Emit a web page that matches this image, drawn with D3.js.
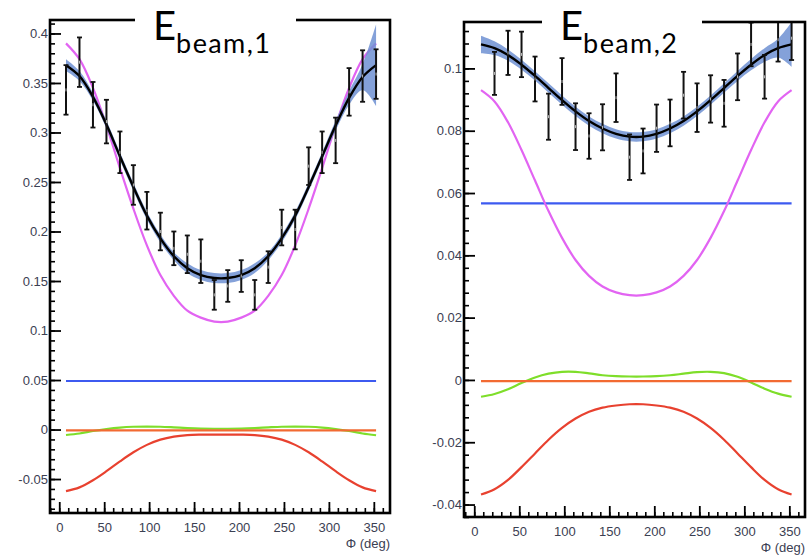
<!DOCTYPE html>
<html>
<head>
<meta charset="utf-8">
<script src="https://cdn.jsdelivr.net/npm/d3@7"></script>
<style>
  body { margin: 0; background: #fff; }
  .tick text { font-family: "Liberation Sans", Arial, sans-serif; font-size: 13px; fill: #3b4052; }
  .axis-title { font-family: "Liberation Sans", Arial, sans-serif; font-size: 13px; fill: #3b4052; }
  .title { font-family: Lato, "Noto Sans", sans-serif; fill: #000; }
</style>
</head>
<body>
<svg id="chart" width="811" height="560"></svg>
<script>
// phi bins (deg) used for the curves and the data points
const phi = [7.5, 22.5, 37.5, 52.5, 67.5, 82.5, 97.5, 112.5, 127.5, 142.5, 157.5, 172.5,
             187.5, 202.5, 217.5, 232.5, 247.5, 262.5, 277.5, 292.5, 307.5, 322.5, 337.5, 352.5];
const phiEnds = [7.5, 352.5];
const xTicks = [0, 50, 100, 150, 200, 250, 300, 350];

// ---- E beam 1 ----
const fit1  = [0.368, 0.357, 0.336, 0.308, 0.276, 0.245, 0.216, 0.193, 0.175, 0.163, 0.156, 0.153,
               0.153, 0.156, 0.163, 0.175, 0.193, 0.216, 0.245, 0.276, 0.307, 0.335, 0.356, 0.368];
const band1 = [0.006, 0.005, 0.004, 0.004, 0.004, 0.004, 0.004, 0.004, 0.004, 0.005, 0.005, 0.005,
               0.005, 0.005, 0.005, 0.004, 0.004, 0.004, 0.004, 0.004, 0.005, 0.007, 0.013, 0.041];
const mag1  = [0.390, 0.374, 0.345, 0.307, 0.264, 0.223, 0.186, 0.156, 0.135, 0.120, 0.113, 0.109,
               0.109, 0.113, 0.120, 0.135, 0.156, 0.186, 0.223, 0.264, 0.307, 0.345, 0.374, 0.390];
const blue1   = [0.049, 0.049];
const orange1 = [-0.0008, -0.0008];
const green1 = [-0.0055, -0.004, -0.0015, 0.0005, 0.002, 0.0028, 0.003, 0.0028, 0.0022, 0.0015, 0.001, 0.0008,
                0.0008, 0.001, 0.0015, 0.0022, 0.0028, 0.003, 0.0028, 0.002, 0.0005, -0.0015, -0.004, -0.0058];
const red1 = [-0.0622, -0.0584, -0.0512, -0.0421, -0.0322, -0.0230, -0.0155, -0.0102, -0.0071, -0.0056, -0.0052, -0.0052,
              -0.0052, -0.0052, -0.0056, -0.0071, -0.0102, -0.0155, -0.0230, -0.0322, -0.0421, -0.0512, -0.0584, -0.0622];
const dataPhi1 = phi;
const data1 = [0.343, 0.371, 0.328, 0.311, 0.280, 0.247, 0.221, 0.200, 0.183, 0.177, 0.170, 0.136,
               0.145, 0.155, 0.136, 0.164, 0.204, 0.202, 0.266, 0.280, 0.292, 0.341, 0.357, 0.359];
const err1  = [0.025, 0.025, 0.023, 0.022, 0.021, 0.020, 0.019, 0.019, 0.017, 0.019, 0.022, 0.015,
               0.016, 0.016, 0.015, 0.016, 0.018, 0.020, 0.019, 0.021, 0.023, 0.024, 0.026, 0.025];
const yTicks1 = [-0.05, 0, 0.05, 0.1, 0.15, 0.2, 0.25, 0.3, 0.35, 0.4];

// ---- E beam 2 ----
const fit2  = [0.1077, 0.1065, 0.1043, 0.1012, 0.0976, 0.0937, 0.0898, 0.0862, 0.0831, 0.0807, 0.0790, 0.0781,
               0.0781, 0.0790, 0.0807, 0.0831, 0.0862, 0.0898, 0.0937, 0.0976, 0.1012, 0.1043, 0.1065, 0.1077];
const band2 = [0.0028, 0.0022, 0.0018, 0.0016, 0.0015, 0.0015, 0.0015, 0.0015, 0.0015, 0.0015, 0.0015, 0.0015,
               0.0015, 0.0015, 0.0015, 0.0015, 0.0015, 0.0015, 0.0015, 0.0016, 0.0018, 0.0022, 0.0030, 0.0072];
const mag2  = [0.0930, 0.0894, 0.0827, 0.0738, 0.0640, 0.0542, 0.0456, 0.0385, 0.0334, 0.0300, 0.0281, 0.0272,
               0.0272, 0.0281, 0.0300, 0.0334, 0.0385, 0.0456, 0.0542, 0.0640, 0.0738, 0.0827, 0.0894, 0.0930];
const blue2   = [0.0567, 0.0567];
const orange2 = [-0.0004, -0.0004];
const green2 = [-0.0054, -0.0045, -0.003, -0.001, 0.0008, 0.002, 0.0026, 0.0026, 0.0021, 0.0015, 0.0012, 0.0011,
                0.0011, 0.0012, 0.0015, 0.002, 0.0025, 0.0026, 0.0022, 0.001, -0.0008, -0.0028, -0.0044, -0.0054];
const red2 = [-0.0368, -0.0351, -0.0321, -0.0280, -0.0236, -0.0192, -0.0154, -0.0124, -0.0102, -0.0089, -0.0082, -0.0078,
              -0.0078, -0.0082, -0.0089, -0.0102, -0.0124, -0.0154, -0.0192, -0.0236, -0.0280, -0.0321, -0.0351, -0.0368];
const dataPhi2 = [22.5, 37.5, 52.5, 67.5, 82.5, 97.5, 112.5, 127.5, 142.5, 157.5, 172.5,
                  187.5, 202.5, 217.5, 232.5, 247.5, 262.5, 277.5, 292.5, 307.5, 322.5, 337.5, 352.5];
const data2 = [0.0984, 0.1050, 0.1045, 0.0966, 0.0845, 0.0958, 0.0813, 0.0783, 0.0811, 0.0906, 0.0715,
               0.0735, 0.0808, 0.0825, 0.0914, 0.0874, 0.0902, 0.0888, 0.0973, 0.1077, 0.0973, 0.1092, 0.1097];
const err2  = [0.0069, 0.0071, 0.0073, 0.0072, 0.0074, 0.0075, 0.0075, 0.0073, 0.0074, 0.0078, 0.0073,
               0.0072, 0.0076, 0.0075, 0.0075, 0.0078, 0.0076, 0.0075, 0.0075, 0.0070, 0.0070, 0.0070, 0.0070];
const yTicks2 = [-0.04, -0.02, 0, 0.02, 0.04, 0.06, 0.08, 0.1];

var panels = [
  { id: 1, left: 50, right: 390, top: 20, bottom: 513, xDomain: [-10.3, 368], yDomain: [-0.0843, 0.4136],
    yTicks: yTicks1, yMinor: 0.01, titleGap: [135, 296], titleX: 153,
    fit: fit1, band: band1, mag: mag1, blue: blue1, orange: orange1, green: green1, red: red1,
    dataPhi: dataPhi1, data: data1, err: err1 },
  { id: 2, left: 464, right: 805, top: 22, bottom: 517, xDomain: [-11.4, 367.4], yDomain: [-0.044, 0.1149],
    yTicks: yTicks2, yMinor: 0.004, titleGap: [542, 702], titleX: 560,
    fit: fit2, band: band2, mag: mag2, blue: blue2, orange: orange2, green: green2, red: red2,
    dataPhi: dataPhi2, data: data2, err: err2 }
];

var svg = d3.select("#chart");
panels.forEach(drawPanel);

function fmt(d) { return String(+d.toFixed(3)); }

function drawPanel(p) {
  var x = d3.scaleLinear().domain(p.xDomain).range([p.left, p.right]);
  var y = d3.scaleLinear().domain(p.yDomain).range([p.bottom, p.top]);
  var g = svg.append("g");

  g.append("clipPath").attr("id", "clip" + p.id)
    .append("rect")
      .attr("x", p.left).attr("y", p.top)
      .attr("width", p.right - p.left).attr("height", p.bottom - p.top);

  var plot = g.append("g").attr("clip-path", "url(#clip" + p.id + ")");

  var line = d3.line().curve(d3.curveCatmullRom);
  function path(xs, ys) { return line(xs.map((v, i) => [x(v), y(ys[i])])); }

  // flat components
  plot.append("path").attr("d", path(phiEnds, p.blue))
    .attr("fill", "none").attr("stroke", "#3d5af0").attr("stroke-width", 2.2);
  plot.append("path").attr("d", path(phi, p.mag))
    .attr("fill", "none").attr("stroke", "#e264f2").attr("stroke-width", 2.2);
  plot.append("path").attr("d", path(phi, p.green))
    .attr("fill", "none").attr("stroke", "#7ede2a").attr("stroke-width", 2.2);
  plot.append("path").attr("d", path(phiEnds, p.orange))
    .attr("fill", "none").attr("stroke", "#f26a32").attr("stroke-width", 2.2);
  plot.append("path").attr("d", path(phi, p.red))
    .attr("fill", "none").attr("stroke", "#e8412f").attr("stroke-width", 2.2);

  // fit uncertainty band + fit
  var area = d3.area().curve(d3.curveCatmullRom)
    .x((d, i) => x(phi[i]))
    .y0((d, i) => y(d - p.band[i]))
    .y1((d, i) => y(d + p.band[i]));
  plot.append("path").attr("d", area(p.fit))
    .attr("fill", "#6f90d2").attr("opacity", 0.85);
  plot.append("path").attr("d", path(phi, p.fit))
    .attr("fill", "none").attr("stroke", "#000").attr("stroke-width", 2.4);

  // data with error bars
  var pts = plot.selectAll(".pt")
      .data(p.data)
    .enter().append("g")
      .attr("class", "pt");
  pts.append("line")
    .attr("x1", (d, i) => x(p.dataPhi[i])).attr("x2", (d, i) => x(p.dataPhi[i]))
    .attr("y1", (d, i) => y(d - p.err[i])).attr("y2", (d, i) => y(d + p.err[i]))
    .attr("stroke", "#111").attr("stroke-width", 2);
  [-1, 1].forEach(s => {
    pts.append("line")
      .attr("x1", (d, i) => x(p.dataPhi[i]) - 2.5).attr("x2", (d, i) => x(p.dataPhi[i]) + 2.5)
      .attr("y1", (d, i) => y(d + s * p.err[i])).attr("y2", (d, i) => y(d + s * p.err[i]))
      .attr("stroke", "#111").attr("stroke-width", 1.8);
  });
  pts.append("line")
    .attr("x1", (d, i) => x(p.dataPhi[i])).attr("x2", (d, i) => x(p.dataPhi[i]))
    .attr("y1", d => y(d) - 1.5).attr("y2", d => y(d) + 1.5)
    .attr("stroke", "#fff").attr("stroke-width", 1).attr("opacity", 0.7);

  // axes: ticks pointing into the frame
  var minorY = d3.range(Math.ceil(p.yDomain[0] / p.yMinor) * p.yMinor, p.yDomain[1], p.yMinor);
  var minorX = d3.range(-10, 370, 10);

  g.append("g").attr("transform", "translate(" + p.left + ",0)")
    .call(d3.axisLeft(y).tickValues(minorY).tickSize(-5).tickFormat(""))
    .call(a => a.select(".domain").remove())
    .call(a => a.selectAll("line").attr("stroke", "#000").attr("stroke-width", 1.6));
  g.append("g").attr("transform", "translate(" + p.left + ",0)")
    .call(d3.axisLeft(y).tickValues(p.yTicks).tickSize(-11).tickPadding(2).tickFormat(fmt))
    .call(a => a.select(".domain").remove())
    .call(a => a.selectAll("line").attr("stroke", "#000").attr("stroke-width", 1.8));

  g.append("g").attr("transform", "translate(0," + p.bottom + ")")
    .call(d3.axisBottom(x).tickValues(minorX).tickSize(-5).tickFormat(""))
    .call(a => a.select(".domain").remove())
    .call(a => a.selectAll("line").attr("stroke", "#000").attr("stroke-width", 1.6));
  g.append("g").attr("transform", "translate(0," + p.bottom + ")")
    .call(d3.axisBottom(x).tickValues(xTicks).tickSize(-11).tickPadding(10).tickFormat(d => d))
    .call(a => a.select(".domain").remove())
    .call(a => a.selectAll("line").attr("stroke", "#000").attr("stroke-width", 1.8));

  g.append("text").attr("class", "axis-title")
    .attr("x", p.right).attr("y", p.bottom + 35)
    .attr("text-anchor", "end")
    .text("\u03A6 (deg)");

  // frame
  g.append("rect")
    .attr("x", p.left).attr("y", p.top)
    .attr("width", p.right - p.left).attr("height", p.bottom - p.top)
    .attr("fill", "none").attr("stroke", "#000").attr("stroke-width", 2.6);

  // title box over the top edge
  g.append("rect")
    .attr("x", p.titleGap[0]).attr("y", 0)
    .attr("width", p.titleGap[1] - p.titleGap[0]).attr("height", p.top + 5)
    .attr("fill", "#fff");
  var t = g.append("text").attr("class", "title")
    .attr("x", p.titleX).attr("y", 40)
    .attr("font-size", 40)
    .text("E");
  t.append("tspan")
    .attr("font-size", 27).attr("dy", 13).attr("letter-spacing", 1.4)
    .text("beam," + p.id);
}
</script>
</body>
</html>
